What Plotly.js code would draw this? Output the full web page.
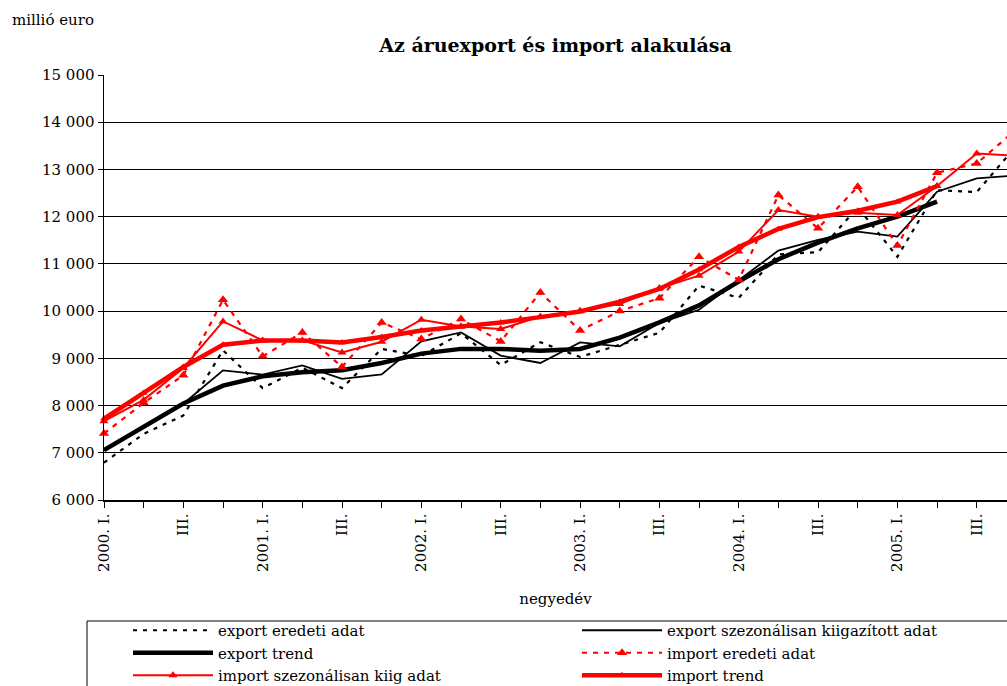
<!DOCTYPE html>
<html>
<head>
<meta charset="utf-8">
<script src="https://cdn.plot.ly/plotly-3.0.1.min.js"></script>
<style>html,body{margin:0;padding:0;background:#fff;}</style>
</head>
<body>
<div id="chart" style="width:1007px;height:686px;"></div>
<script>
// Quarters 2000 Q1 .. 2005 Q4 (index positions on the category axis)
var quarters = ["2000. I.","II.","III.","IV.","2001. I.","II.","III.","IV.","2002. I.","II.","III.","IV.",
                "2003. I.","II.","III.","IV.","2004. I.","II.","III.","IV.","2005. I.","II.","III.","IV."];
var tickLabels = ["2000. I.","","III.","","2001. I.","","III.","","2002. I.","","III.","",
                  "2003. I.","","III.","","2004. I.","","III.","","2005. I.","","III.",""];

var exportOriginal = [6790,7400,7790,9170,8370,8800,8370,9200,9050,9530,8860,9340,
                      9030,9280,9540,10540,10280,11200,11250,12200,11150,12560,12520,13500];
var exportSA       = [7050,7550,8040,8746,8655,8852,8564,8661,9359,9549,9057,8902,
                      9338,9253,9747,10028,10662,11282,11507,11683,11577,12528,12810,12875];
var exportTrend    = [7056,7550,8042,8423,8619,8703,8746,8902,9100,9200,9200,9160,
                      9200,9440,9760,10120,10627,11100,11450,11753,12000,12317];
var importOriginal = [7408,8057,8640,10240,9042,9549,8818,9760,9409,9831,9359,10394,
                      9591,10000,10275,11150,10661,12457,11753,12634,11387,12929,13127,13850];
var importSA       = [7669,8120,8797,9781,9380,9380,9126,9352,9817,9676,9620,9887,
                      10007,10150,10487,10750,11260,12140,12000,12084,12035,12648,13338,13290];
var importTrend    = [7720,8268,8817,9288,9379,9379,9337,9450,9590,9676,9760,9873,
                      9993,10200,10470,10880,11360,11740,11990,12126,12317,12648];

var seriesNames = ["export eredeti adat","export szezonálisan kiigazított adat","export trend",
                   "import eredeti adat","import szezonálisan kiig adat","import trend"];

function idx(arr){ return arr.map(function(_, i){ return i; }); }

var FONT = "'DejaVu Serif', 'Liberation Serif', serif";
var FS = 15;

var traces = [
  {x: idx(exportOriginal), y: exportOriginal, name: seriesNames[0], mode: "lines",
   line: {color: "#000", width: 2.2, dash: "4px,6px"}, legend: "legend"},
  {x: idx(exportSA), y: exportSA, name: seriesNames[1], mode: "lines",
   line: {color: "#000", width: 1.8}, legend: "legend2"},
  {x: idx(exportTrend), y: exportTrend, name: seriesNames[2], mode: "lines",
   line: {color: "#000", width: 4.5}, legend: "legend"},
  {x: idx(importOriginal), y: importOriginal, name: seriesNames[3], mode: "lines+markers",
   line: {color: "#ff0000", width: 2.2, dash: "5px,6px"},
   marker: {symbol: "triangle-up", size: 9, color: "#ff0000"}, legend: "legend2"},
  {x: idx(importSA), y: importSA, name: seriesNames[4], mode: "lines+markers",
   line: {color: "#ff0000", width: 2},
   marker: {symbol: "triangle-up", size: 8, color: "#ff0000"}, legend: "legend"},
  {x: idx(importTrend), y: importTrend, name: seriesNames[5], mode: "lines+markers",
   line: {color: "#ff0000", width: 4.5},
   marker: {symbol: "triangle-up", size: 7, color: "#ff0000"}, legend: "legend2"}
];
traces.forEach(function(t){ t.cliponaxis = false; t.hoverinfo = "skip"; });

var W = 1007, H = 686;
var L = 104, T = 75, B = 186;
var plotW = W - L, plotH = H - T - B;
var step = 39.67;

var layout = {
  width: W, height: H,
  margin: {l: L, r: 0, t: T, b: B, pad: 0, autoexpand: false},
  paper_bgcolor: "#fff", plot_bgcolor: "#fff",
  separators: ", ",
  font: {family: FONT, color: "#000", size: FS},
  title: {text: "<b>Az áruexport és import alakulása</b>", font: {family: FONT, size: 19, color: "#000"},
          x: 0.5, xref: "paper", y: 1 - 45/H, yref: "container", yanchor: "middle", automargin: false},
  xaxis: {
    range: [0, plotW/step], tickvals: idx(quarters), ticktext: tickLabels,
    tickangle: -90, ticks: "outside", ticklen: 6, tickcolor: "#000", tickwidth: 1,
    showline: true, linecolor: "#000", linewidth: 1.5, showgrid: false, zeroline: false,
    tickfont: {family: FONT, size: FS, color: "#000"},
    title: {text: "negyedév", font: {family: FONT, size: FS, color: "#000"}, standoff: 22},
    automargin: false, fixedrange: true
  },
  yaxis: {
    range: [6000, 15000], dtick: 1000, tickformat: ",d",
    ticks: "outside", ticklen: 5, tickcolor: "#000",
    showline: true, linecolor: "#000", linewidth: 1.5,
    showgrid: true, gridcolor: "#000", gridwidth: 1, zeroline: false,
    tickfont: {family: FONT, size: FS, color: "#000"},
    automargin: false, fixedrange: true
  },
  showlegend: true,
  legend: {xref: "container", yref: "container", x: 128/W, y: 1 - 614/H, xanchor: "left", yanchor: "top",
           orientation: "v", itemwidth: 80, bgcolor: "rgba(0,0,0,0)", borderwidth: 0,
           font: {family: FONT, size: FS, color: "#000"}, tracegroupgap: 0},
  legend2: {xref: "container", yref: "container", x: 577/W, y: 1 - 614/H, xanchor: "left", yanchor: "top",
           orientation: "v", itemwidth: 80, bgcolor: "rgba(0,0,0,0)", borderwidth: 0,
           font: {family: FONT, size: FS, color: "#000"}, tracegroupgap: 0},
  shapes: [{type: "rect", xref: "paper", yref: "paper",
            x0: (87 - L)/plotW, x1: 1.05, y0: (T + plotH - 621)/plotH, y1: (T + plotH - 730)/plotH,
            line: {color: "#000", width: 1}, fillcolor: "rgba(0,0,0,0)", layer: "below"}],
  annotations: [{text: "millió euro", xref: "paper", yref: "paper", x: (10 - L)/plotW, y: 1 + (T - 20)/plotH,
                 xanchor: "left", yanchor: "middle", showarrow: false,
                 font: {family: FONT, size: FS, color: "#000"}}]
};

Plotly.newPlot("chart", traces, layout, {displayModeBar: false, staticPlot: true});
</script>
</body>
</html>
